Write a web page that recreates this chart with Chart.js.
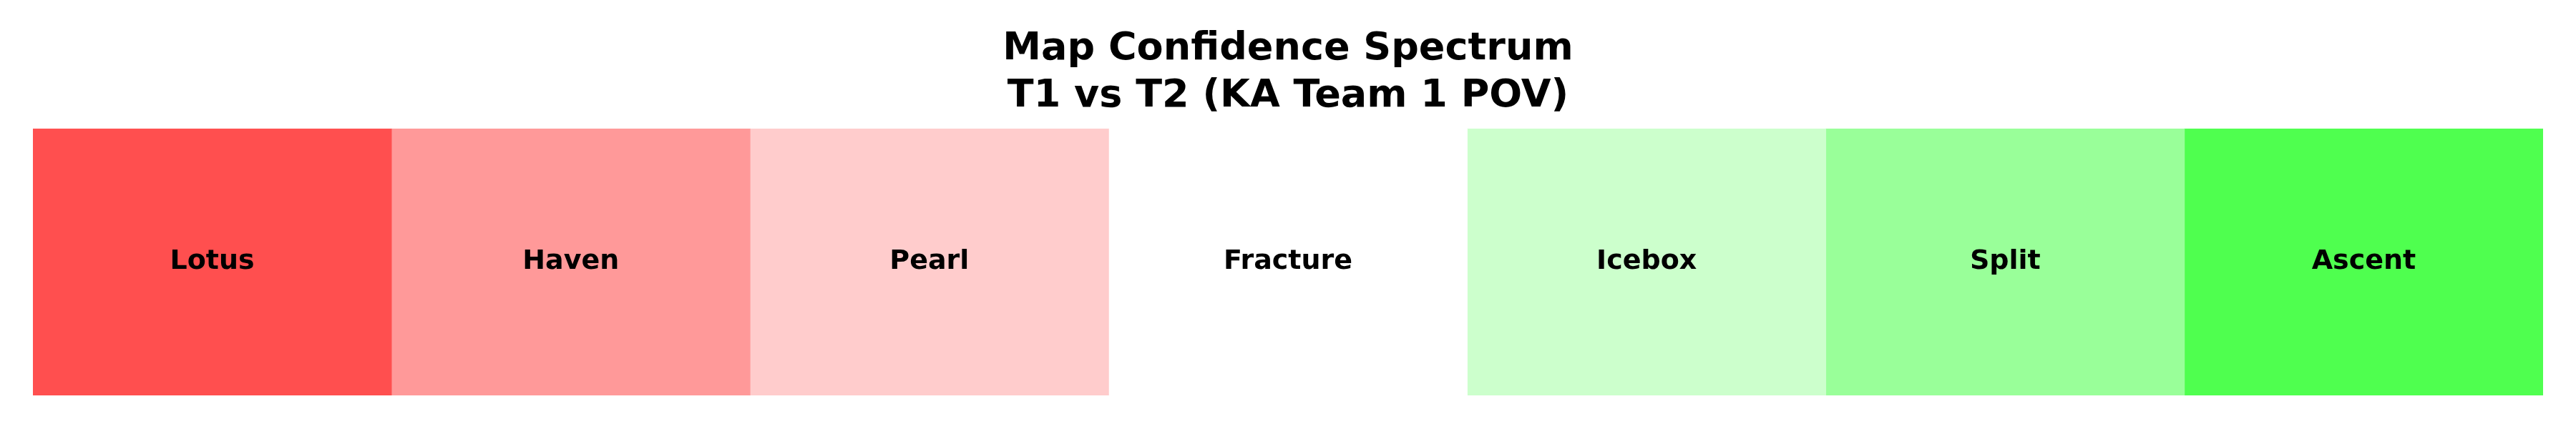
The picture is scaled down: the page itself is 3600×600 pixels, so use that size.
<!DOCTYPE html>
<html>
<head>
<script src="https://cdn.jsdelivr.net/npm/chart.js@4"></script>
<style>
html, body { margin: 0; padding: 0; background: #fff; }
#box { width: 3600px; height: 600px; }
</style>
</head>
<body>
<div id="box"><canvas id="myChart"></canvas></div>
<script>
var maps = ["Lotus", "Haven", "Pearl", "Fracture", "Icebox", "Split", "Ascent"];
var widths = [1, 1, 1, 1, 1, 1, 1];
var colors = ["#ff4f4f", "#ff9999", "#ffcccc", "#ffffff", "#ccffcc", "#99ff99", "#4fff4f"];

var datasets = [];
for (var i = 0; i < maps.length; i++) {
    datasets.push({
        label: maps[i],
        data: [widths[i]],
        backgroundColor: colors[i],
        borderWidth: 0,
        barPercentage: 1,
        categoryPercentage: 1
    });
}

// names in the middle of each cell
const cellLabels = {
    id: 'cellLabels',
    afterDatasetsDraw(chart) {
        var ctx = chart.ctx;
        ctx.save();
        ctx.font = "bold 38px 'DejaVu Sans'";
        ctx.fillStyle = "#000";
        ctx.textAlign = "center";
        ctx.textBaseline = "middle";
        chart.data.datasets.forEach(function (ds, i) {
            var bar = chart.getDatasetMeta(i).data[0];
            ctx.fillText(ds.label, (bar.x + bar.base) / 2, bar.y);
        });
        ctx.restore();
    }
};

const config = {
    type: 'bar',
    data: { labels: [""], datasets: datasets },
    options: {
        indexAxis: 'y',
        responsive: true,
        maintainAspectRatio: false,
        animation: false,
        layout: { padding: { left: 46, right: 46, bottom: 47 } },
        scales: {
            x: { stacked: true, display: false, min: 0, max: 7 },
            y: { stacked: true, display: false }
        },
        plugins: {
            legend: { display: false },
            tooltip: { enabled: false },
            title: {
                display: true,
                text: ["Map Confidence Spectrum", "T1 vs T2 (KA Team 1 POV)"],
                color: "#000",
                font: { family: "'DejaVu Sans'", size: 54, weight: 'bold', lineHeight: 1.22 },
                padding: { top: 36, bottom: 12 }
            }
        }
    },
    plugins: [cellLabels]
};

const myChart = new Chart(document.getElementById('myChart'), config);
</script>
</body>
</html>
